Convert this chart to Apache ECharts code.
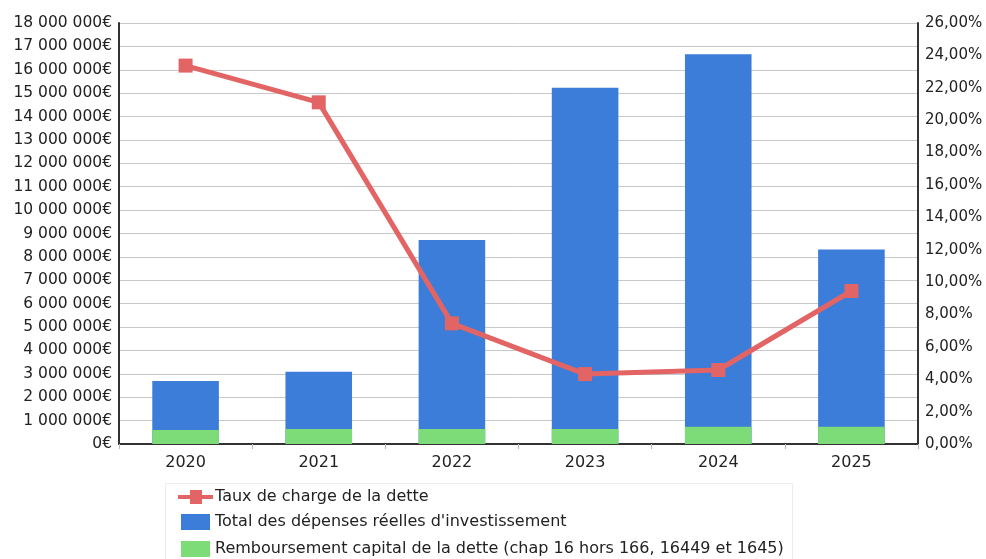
<!DOCTYPE html>
<html>
<head>
<meta charset="utf-8">
<script src="https://cdn.jsdelivr.net/npm/echarts@6/dist/echarts.min.js"></script>
<style>
  html, body { margin: 0; padding: 0; background: #fff; }
  #chart { width: 986px; height: 559px; }
</style>
</head>
<body>
<div id="chart"></div>
<script>
// Years on the category axis
const years = ['2020', '2021', '2022', '2023', '2024', '2025'];
// Total real investment spending (€)
const totalInvest = [2690000, 3090000, 8720000, 15230000, 16660000, 8320000];
// Debt principal repayment (€)
const debtRepay = [600000, 640000, 640000, 640000, 740000, 740000];
// Debt charge ratio (%)
const debtRate = [23.37, 21.1, 7.45, 4.32, 4.57, 9.45];

const seriesNames = [
  'Taux de charge de la dette',
  "Total des dépenses réelles d'investissement",
  'Remboursement capital de la dette (chap 16 hors 166, 16449 et 1645)'
];

const FONT = 'DejaVu Sans';
const TXT = '#222';

function euro(v) {
  return String(Math.round(v)).replace(/\B(?=(\d{3})+(?!\d))/g, ' ') + '€';
}
function pct(v) {
  return v.toFixed(2).replace('.', ',') + '%';
}

const lineIcon = 'path://M0,7 L12,7 L12,2 L24,2 L24,7 L35,7 L35,11 L24,11 L24,16 L12,16 L12,11 L0,11 Z';
const boxIcon = 'path://M0,0 L29,0 L29,16 L0,16 Z';

// one legend row per series, stacked vertically inside a framed box
function legendRow(name, icon, left, top, w, h, shift) {
  return {
    orient: 'horizontal',
    left: left,
    top: top,
    padding: 0,
    itemWidth: w,
    itemHeight: h,
    itemGap: 0,
    textStyle: { fontFamily: FONT, fontSize: 16, color: TXT, padding: [0, 0, 0, shift] },
    data: [{ name: name, icon: icon }]
  };
}

const chart = echarts.init(document.getElementById('chart'), null, { renderer: 'canvas' });
chart.setOption({
  animation: false,
  backgroundColor: '#fff',
  textStyle: { fontFamily: FONT, color: TXT },
  grid: { left: 119, right: 68, top: 23, bottom: 115, containLabel: false },
  graphic: [{
    type: 'rect',
    left: 165, top: 483,
    shape: { width: 627, height: 80 },
    style: { fill: '#fff', stroke: '#ececec', lineWidth: 1 },
    z: 0
  }],
  legend: [
    legendRow(seriesNames[0], lineIcon, 178, 489, 35, 18, -3),
    legendRow(seriesNames[1], boxIcon, 181, 514, 29, 16, 0),
    legendRow(seriesNames[2], boxIcon, 181, 541, 29, 16, 0)
  ],
  xAxis: {
    type: 'category',
    data: years,
    axisLine: { show: true, lineStyle: { color: '#333', width: 2 } },
    axisTick: { show: true, alignWithLabel: false, length: 5, lineStyle: { color: '#bbb' } },
    axisLabel: { fontFamily: FONT, fontSize: 16, color: TXT, margin: 11 }
  },
  yAxis: [{
    type: 'value',
    min: 0, max: 18000000, interval: 1000000,
    axisLine: { show: true, lineStyle: { color: '#333', width: 2 } },
    axisTick: { show: false },
    axisLabel: { fontFamily: FONT, fontSize: 15.5, color: TXT, margin: 7, formatter: euro },
    splitLine: { show: true, lineStyle: { color: '#c8c8c8', width: 1 } }
  }, {
    type: 'value',
    min: 0, max: 26, interval: 2,
    position: 'right',
    axisLine: { show: true, lineStyle: { color: '#333', width: 2 } },
    axisTick: { show: false },
    axisLabel: { fontFamily: FONT, fontSize: 15, color: TXT, margin: 7, formatter: pct },
    splitLine: { show: false }
  }],
  series: [{
    name: seriesNames[1],
    type: 'bar',
    data: totalInvest,
    barWidth: '50%',
    barGap: '-100%',
    itemStyle: { color: '#3b7dd8' },
    z: 2
  }, {
    name: seriesNames[2],
    type: 'bar',
    data: debtRepay,
    barWidth: '50%',
    barGap: '-100%',
    itemStyle: { color: '#7ddc77' },
    z: 3
  }, {
    name: seriesNames[0],
    type: 'line',
    yAxisIndex: 1,
    data: debtRate,
    symbol: 'rect',
    symbolSize: 14,
    lineStyle: { color: '#e36464', width: 5 },
    itemStyle: { color: '#e36464' },
    z: 5
  }]
});
</script>
</body>
</html>
